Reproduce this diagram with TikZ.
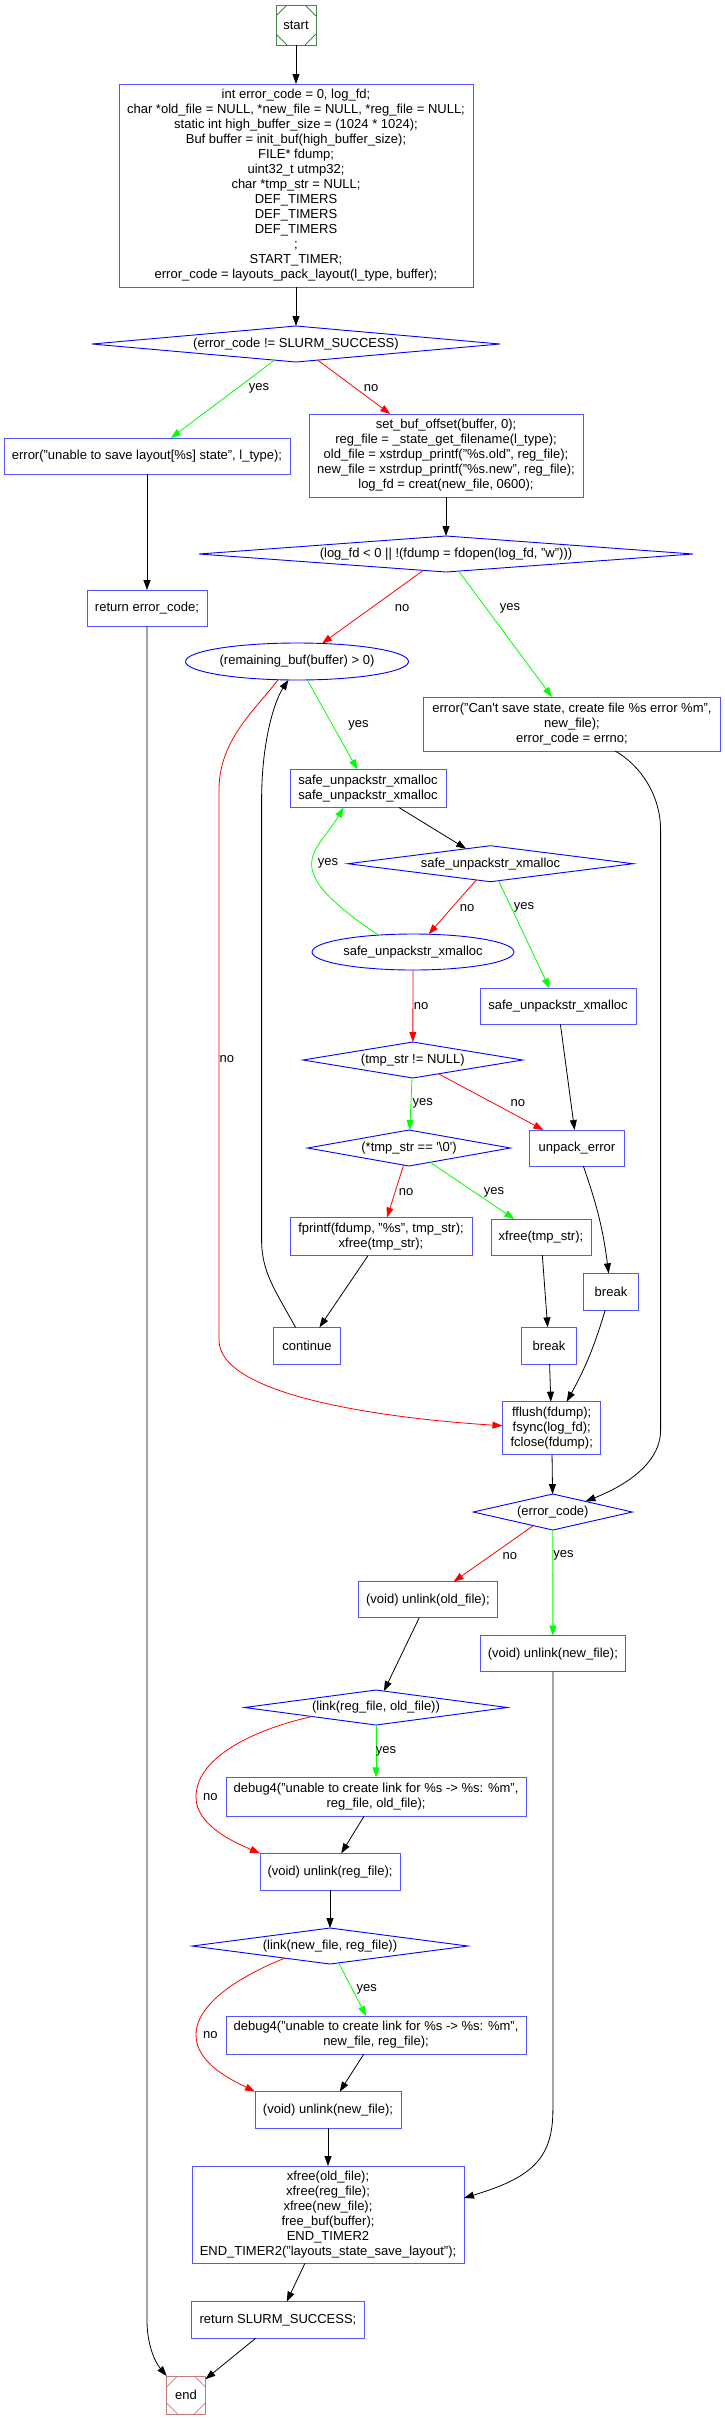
\documentclass[tikz,border=0pt]{standalone}
\usepackage{fontspec}
\setmainfont{Liberation Sans}
\usetikzlibrary{shapes.geometric,arrows.meta}
\definecolor{boxblue}{RGB}{85,85,255}
\definecolor{dblue}{RGB}{0,0,255}
\definecolor{egreen}{RGB}{0,255,0}
\definecolor{ered}{RGB}{255,0,0}
\definecolor{sgreen}{RGB}{70,130,70}
\definecolor{ebrown}{RGB}{200,120,120}
\begin{document}
\begin{tikzpicture}[x=1pt,y=-1pt,
  every node/.style={font=\fontsize{13}{15}\selectfont, inner sep=0pt, outer sep=0pt},
  wh/.style 2 args={minimum width=#1pt, minimum height=#2pt},
  box/.style={draw=boxblue, line width=1pt, rectangle, align=center},
  dia/.style={draw=dblue, line width=0.9pt, diamond, aspect=8, align=center},
  ell/.style={draw=dblue, line width=0.9pt, ellipse, align=center},
  msq/.style={draw=#1, line width=1pt, rectangle, minimum width=40pt, minimum height=40pt},
  lbl/.style={},
  arr/.style={line width=0.8pt, -{Triangle[length=10pt,width=7pt]}},
]
\useasboundingbox (0,0) rectangle (724,2418);

% ---------- nodes ----------
\node[msq=sgreen] (start) at (296,25) {start};
\node[box, wh={354}{203}] (init) at (296,185.5) {int error\_code = 0, log\_fd;\\
char *old\_file = NULL, *new\_file = NULL, *reg\_file = NULL;\\
static int high\_buffer\_size = (1024 * 1024);\\
Buf buffer = init\_buf(high\_buffer\_size);\\
FILE* fdump;\\
uint32\_t utmp32;\\
char *tmp\_str = NULL;\\
DEF\_TIMERS\\
DEF\_TIMERS\\
DEF\_TIMERS\\
;\\
START\_TIMER;\\
error\_code = layouts\_pack\_layout(l\_type, buffer);};
\node[dia, wh={408}{36}, aspect=11.3] (d1) at (296,344) {(error\_code != SLURM\_SUCCESS)};
\node[box, wh={286}{36}] (err1) at (147,456) {error("unable to save layout[\%s] state", l\_type);};
\node[box, wh={274}{83}] (sb) at (446,455.5) {set\_buf\_offset(buffer, 0);\\
reg\_file = \_state\_get\_filename(l\_type);\\
old\_file = xstrdup\_printf("\%s.old", reg\_file);\\
new\_file = xstrdup\_printf("\%s.new", reg\_file);\\
log\_fd = creat(new\_file, 0600);};
\node[box, wh={120}{36}] (ret1) at (147,608) {return error\_code;};
\node[dia, wh={494}{36}, aspect=13.7] (d2) at (446,554) {(log\_fd < 0 || !(fdump = fdopen(log\_fd, "w")))};
\node[ell, wh={223}{37}] (e1) at (297,661.5) {(remaining\_buf(buffer) > 0)};
\node[box, wh={297}{54}] (err2) at (572,724) {error("Can\textquotesingle t save state, create file \%s error \%m",\\ new\_file);\\ error\_code = errno;};
\node[box, wh={156}{38}] (b1) at (368,788.5) {safe\_unpackstr\_xmalloc\\safe\_unpackstr\_xmalloc};
\node[dia, wh={285.5}{36}, aspect=7.9] (d3) at (490.5,863.7) {safe\_unpackstr\_xmalloc};
\node[ell, wh={202}{36}] (e2) at (413,952) {safe\_unpackstr\_xmalloc};
\node[box, wh={156}{36}] (b3) at (558,1006.3) {safe\_unpackstr\_xmalloc};
\node[dia, wh={219.6}{36}, aspect=6.1] (d4) at (412.8,1060) {(tmp\_str != NULL)};
\node[box, wh={94.4}{36}] (ue) at (577,1148) {unpack\_error};
\node[dia, wh={203}{36}, aspect=5.6] (d5) at (409,1148) {(*tmp\_str == \textquotesingle\textbackslash 0\textquotesingle)};
\node[box, wh={182}{38}] (fp) at (381,1236.5) {fprintf(fdump, "\%s", tmp\_str);\\xfree(tmp\_str);};
\node[box, wh={100}{36}] (xf) at (541,1237) {xfree(tmp\_str);};
\node[box, wh={66.6}{36.7}] (cont) at (307,1345.7) {continue};
\node[box, wh={55}{36.7}] (bk1) at (549,1345.7) {break};
\node[box, wh={55}{36.7}] (bk2) at (611,1291.7) {break};
\node[box, wh={98.5}{53.3}] (ff) at (551.7,1428.3) {fflush(fdump);\\fsync(log\_fd);\\fclose(fdump);};
\node[dia, wh={159}{36}, aspect=4.4] (d6) at (552.8,1512) {(error\_code)};
\node[box, wh={139.8}{36}] (uo) at (427.9,1599.7) {(void) unlink(old\_file);};
\node[box, wh={145.8}{36}] (un) at (552.9,1653.7) {(void) unlink(new\_file);};
\node[dia, wh={263}{35}, aspect=7.5] (d7) at (376,1707.5) {(link(reg\_file, old\_file))};
\node[box, wh={300}{38.7}] (db1) at (376,1796.7) {debug4("unable to create link for \%s -> \%s: \%m",\\reg\_file, old\_file);};
\node[box, wh={140}{36.7}] (ur) at (330,1871.7) {(void) unlink(reg\_file);};
\node[dia, wh={275.7}{36}, aspect=7.66] (d8) at (330,1946) {(link(new\_file, reg\_file))};
\node[box, wh={300}{38}] (db2) at (376,2035) {debug4("unable to create link for \%s -> \%s: \%m",\\new\_file, reg\_file);};
\node[box, wh={146}{36.7}] (un2) at (328,2110) {(void) unlink(new\_file);};
\node[box, wh={272}{97.3}] (xb) at (328,2214.7) {xfree(old\_file);\\xfree(reg\_file);\\xfree(new\_file);\\free\_buf(buffer);\\END\_TIMER2\\END\_TIMER2("layouts\_state\_save\_layout");};
\node[box, wh={172.3}{36.7}] (rs) at (278,2320) {return SLURM\_SUCCESS;};
\node[msq=ebrown, minimum width=38.7pt, minimum height=38pt] (endn) at (186,2395) {end};

% Msquare corner cuts
\foreach \n/\col in {start/sgreen, endn/ebrown} {
  \draw[\col, line width=0.8pt] ([yshift=-11pt]\n.north west) -- ([xshift=11pt]\n.north west);
  \draw[\col, line width=0.8pt] ([xshift=-11pt]\n.north east) -- ([yshift=-11pt]\n.north east);
  \draw[\col, line width=0.8pt] ([yshift=11pt]\n.south west) -- ([xshift=11pt]\n.south west);
  \draw[\col, line width=0.8pt] ([xshift=-11pt]\n.south east) -- ([yshift=11pt]\n.south east);
}

% ---------- edges ----------
\draw[arr] (start) -- (init);
\draw[arr] (init) -- (d1);
\draw[arr,egreen] (d1) -- (err1);
\draw[arr,ered] (d1) -- (sb);
\draw[arr] (err1) -- (ret1);
\draw[arr] (sb) -- (d2);
\draw[arr,ered] (d2) -- (e1);
\draw[arr,egreen] (d2) -- (err2);
\draw[arr,egreen] (e1) -- (b1);
\draw[arr] (b1) -- (d3);
\draw[arr,ered] (d3) -- (e2);
\draw[arr,egreen] (d3) -- (b3);
\draw[arr,egreen] (e2.154) .. controls (276,866.5) and (316,854) .. (b1.218);
\draw[arr,ered] (e2) -- (d4);
\draw[arr] (b3) -- (ue);
\draw[arr,egreen] (d4) -- (d5);
\draw[arr,ered] (d4) -- (ue);
\draw[arr,ered] (d5) -- (fp);
\draw[arr,egreen] (d5) -- (xf);
\draw[arr] (fp) -- (cont);
\draw[arr] (xf) -- (bk1);
\draw[arr] (ue) to[bend left=6] (bk2);
\draw[arr] (bk1) -- (ff);
\draw[arr] (bk2) to[bend left=6] (ff);
\draw[arr] (ff) -- (d6);
\draw[arr] (err2.-32.4) .. controls (640,765) and (660.6,795) .. (660.6,830) -- (660.6,1430) .. controls (660.6,1465) and (622,1487) .. (d6.18);
\draw[arr,ered] (d6) -- (uo);
\draw[arr,egreen] (d6) -- (un);
\draw[arr] (uo) -- (d7);
\draw[arr,egreen] (d7) -- (db1);
\draw[arr,ered] (d7.188) .. controls (260,1728) and (196,1755) .. (196,1797) .. controls (196,1826) and (236,1843) .. (ur.north west);
\draw[arr] (db1) -- (ur);
\draw[arr] (ur) -- (d8);
\draw[arr,egreen] (d8) -- (db2);
\draw[arr,ered] (d8.195) .. controls (250,1972) and (196,2000) .. (196,2035) .. controls (196,2064) and (234,2081) .. (un2.north west);
\draw[arr] (db2) -- (un2);
\draw[arr] (un2) -- (xb);
\draw[arr] (un.south) -- (552.9,2110) .. controls (552.9,2160) and (530,2178) .. (xb.7.5);
\draw[arr] (xb) -- (rs);
\draw[arr] (rs) -- (endn);
\draw[arr] (ret1) -- (147,2320) .. controls (147,2345) and (155,2362) .. (endn.north west);
\draw[arr,ered] (e1.224) .. controls (255,710) and (219,740) .. (219,790) -- (219,1340) .. controls (219,1395) and (380,1418) .. (ff.177);
\draw[arr] (cont.122.5) .. controls (275,1290) and (261.6,1272) .. (261.6,1240) -- (261.6,800) .. controls (261.6,740) and (275,700) .. (e1.245);

% ---------- labels ----------
\node[lbl] (l1) at (259,388) {yes};
\node[lbl] (l2) at (371,388) {no};
\node[lbl] (l3) at (402,608) {no};
\node[lbl] (l4) at (510,608) {yes};
\node[lbl] (l5) at (358.6,725) {yes};
\node[lbl] (l6) at (226.9,1059.3) {no};
\node[lbl] (l7) at (328,863) {yes};
\node[lbl] (l8) at (467,907.7) {no};
\node[lbl] (l9) at (524,907.7) {yes};
\node[lbl] (l10) at (421,1005.7) {no};
\node[lbl] (l11) at (422.7,1103) {yes};
\node[lbl] (l12) at (517.9,1103) {no};
\node[lbl] (l13) at (406,1192) {no};
\node[lbl] (l14) at (494,1192) {yes};
\node[lbl] (l15) at (509.8,1555.7) {no};
\node[lbl] (l16) at (563.6,1555.7) {yes};
\node[lbl] (l17) at (386,1751.7) {yes};
\node[lbl] (l18) at (210.4,1796.7) {no};
\node[lbl] (l19) at (366.7,1989.3) {yes};
\node[lbl] (l20) at (210.4,2035) {no};
\end{tikzpicture}
\end{document}
